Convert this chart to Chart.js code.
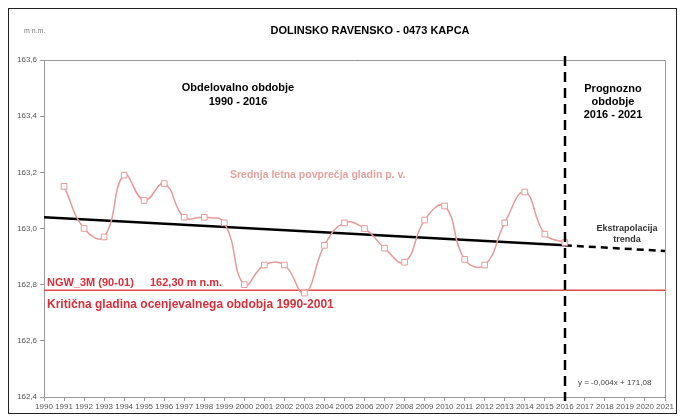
<!DOCTYPE html>
<html>
<head>
<meta charset="utf-8">
<script src="https://cdn.jsdelivr.net/npm/chart.js@4/dist/chart.umd.min.js"></script>
<style>
  body { margin: 0; background: #fff; }
  #wrap { width: 684px; height: 417px; }
</style>
</head>
<body>
<div id="wrap"><canvas id="myChart" width="684" height="417"></canvas></div>
<script>
// yearly average groundwater levels (m n.m.)
var years = [1991, 1992, 1993, 1994, 1995, 1996, 1997, 1998, 1999, 2000, 2001, 2002, 2003,
  2004, 2005, 2006, 2007, 2008, 2009, 2010, 2011, 2012, 2013, 2014, 2015, 2016];
var levels = [163.15, 163.00, 162.97, 163.19, 163.10, 163.16, 163.04, 163.04, 163.02, 162.80,
  162.87, 162.87, 162.77, 162.94, 163.02, 163.00, 162.93, 162.88, 163.03, 163.08,
  162.89, 162.87, 163.02, 163.13, 162.98, 162.95];

// linear trend and its extrapolation
var trendYears = [1990, 2016];
var trendLevels = [163.04, 162.94];
var extraYears = [2016, 2021];
var extraLevels = [162.94, 162.92];

// critical level
var criticalYears = [1990, 2021];
var criticalLevels = [162.78, 162.78];

var yTicks = [162.4, 162.6, 162.8, 163.0, 163.2, 163.4, 163.6];
var splitYear = 2016;

function pts(xs, ys) {
  return xs.map(function (x, i) { return { x: x, y: ys[i] }; });
}

var pink = '#e89a9a';
var red = '#d8303a';

var decorations = {
  id: 'decorations',
  beforeDraw: function (chart) {
    var c = chart.ctx;
    c.save();
    c.fillStyle = '#fff';
    c.fillRect(0, 0, chart.width, chart.height);
    c.strokeStyle = '#222';
    c.lineWidth = 1;
    c.strokeRect(8.5, 8.5, 668, 405);
    c.restore();
  },
  afterDatasetsDraw: function (chart) {
    var c = chart.ctx;
    var a = chart.chartArea;
    var xs = chart.scales.x;
    c.save();
    // frame of plot area
    c.strokeStyle = '#999';
    c.lineWidth = 1;
    c.beginPath();
    c.moveTo(a.left, a.top + 0.5);
    c.lineTo(a.right + 0.5, a.top + 0.5);
    c.lineTo(a.right + 0.5, a.bottom);
    c.stroke();

    // vertical split line
    var sx = Math.round(xs.getPixelForValue(splitYear));
    c.strokeStyle = '#000';
    c.lineWidth = 2.5;
    c.setLineDash([10, 6]);
    c.beginPath();
    c.moveTo(sx, a.top - 4);
    c.lineTo(sx, a.bottom + 4);
    c.stroke();
    c.setLineDash([]);

    c.textAlign = 'center';
    c.textBaseline = 'middle';
    c.fillStyle = '#000';
    c.font = 'bold 11px "Liberation Sans", Arial, sans-serif';
    c.fillText('DOLINSKO RAVENSKO - 0473 KAPCA', 370, 31);

    c.font = 'bold 11px "Liberation Sans", Arial, sans-serif';
    c.fillText('Obdelovalno obdobje', 238, 88);
    c.fillText('1990 - 2016', 238, 102);
    c.fillText('Prognozno', 613, 89);
    c.fillText('obdobje', 613, 102);
    c.fillText('2016 - 2021', 613, 115);

    c.font = 'bold 9px "Liberation Sans", Arial, sans-serif';
    c.fillStyle = '#333';
    c.fillText('Ekstrapolacija', 627, 229);
    c.fillText('trenda', 627, 240);

    c.textAlign = 'left';
    c.font = '8px "Liberation Sans", Arial, sans-serif';
    c.fillStyle = '#444';
    c.fillText('y = -0,004x + 171,08', 578, 383);
    c.font = '7px "Liberation Sans", Arial, sans-serif';
    c.fillStyle = '#777';
    c.fillText('m n.m.', 24, 31);

    c.font = 'bold 10.5px "Liberation Sans", Arial, sans-serif';
    c.fillStyle = '#e8a0a0';
    c.fillText('Srednja letna povprečja gladin p. v.', 230, 175);

    c.fillStyle = red;
    c.font = 'bold 11px "Liberation Sans", Arial, sans-serif';
    c.fillText('NGW_3M (90-01)', 47, 283);
    c.fillText('162,30 m n.m.', 150, 283);
    c.font = 'bold 12px "Liberation Sans", Arial, sans-serif';
    c.fillText('Kritična gladina ocenjevalnega obdobja 1990-2001', 47, 305);
    c.restore();
  }
};

var ctx = document.getElementById('myChart').getContext('2d');
var myChart = new Chart(ctx, {
  type: 'line',
  data: {
    datasets: [
      {
        data: pts(years, levels),
        borderColor: pink,
        borderWidth: 1.5,
        backgroundColor: '#fff',
        pointStyle: 'rect',
        pointRadius: 4,
        pointBorderWidth: 1,
        pointBorderColor: pink,
        tension: 0.45,
        fill: false,
        order: 1
      },
      {
        data: pts(trendYears, trendLevels),
        borderColor: '#000',
        borderWidth: 2.5,
        pointRadius: 0,
        fill: false,
        order: 2
      },
      {
        data: pts(extraYears, extraLevels),
        borderColor: '#000',
        borderWidth: 2.5,
        borderDash: [7, 5],
        pointRadius: 0,
        fill: false,
        order: 2
      },
      {
        data: pts(criticalYears, criticalLevels),
        borderColor: '#dd4a4a',
        borderWidth: 1.5,
        pointRadius: 0,
        fill: false,
        order: 3
      }
    ]
  },
  options: {
    responsive: false,
    animation: false,
    layout: { padding: { top: 60, right: 19, left: 0, bottom: 0 } },
    plugins: {
      legend: { display: false },
      tooltip: { enabled: false }
    },
    scales: {
      x: {
        type: 'linear',
        min: 1990,
        max: 2021,
        afterFit: function (s) { s.height = 20; },
        afterBuildTicks: function (s) {
          var t = [];
          for (var y = 1990; y <= 2021; y++) t.push({ value: y });
          s.ticks = t;
        },
        border: { color: '#999' },
        grid: { drawOnChartArea: false, tickLength: 4, color: '#999' },
        ticks: {
          maxRotation: 0,
          autoSkip: false,
          padding: 1,
          color: '#555',
          font: { family: '"Liberation Sans", Arial, sans-serif', size: 8 },
          callback: function (v) { return String(v); }
        }
      },
      y: {
        min: 162.4,
        max: 163.6,
        afterFit: function (s) { s.width = 44; },
        afterBuildTicks: function (s) {
          s.ticks = yTicks.map(function (v) { return { value: v }; });
        },
        border: { color: '#999' },
        grid: { drawOnChartArea: false, tickLength: 4, color: '#999' },
        ticks: {
          padding: 3,
          color: '#555',
          font: { family: '"Liberation Sans", Arial, sans-serif', size: 8 },
          callback: function (v) { return v.toFixed(1).replace('.', ','); }
        }
      }
    }
  },
  plugins: [decorations]
});
</script>
</body>
</html>
